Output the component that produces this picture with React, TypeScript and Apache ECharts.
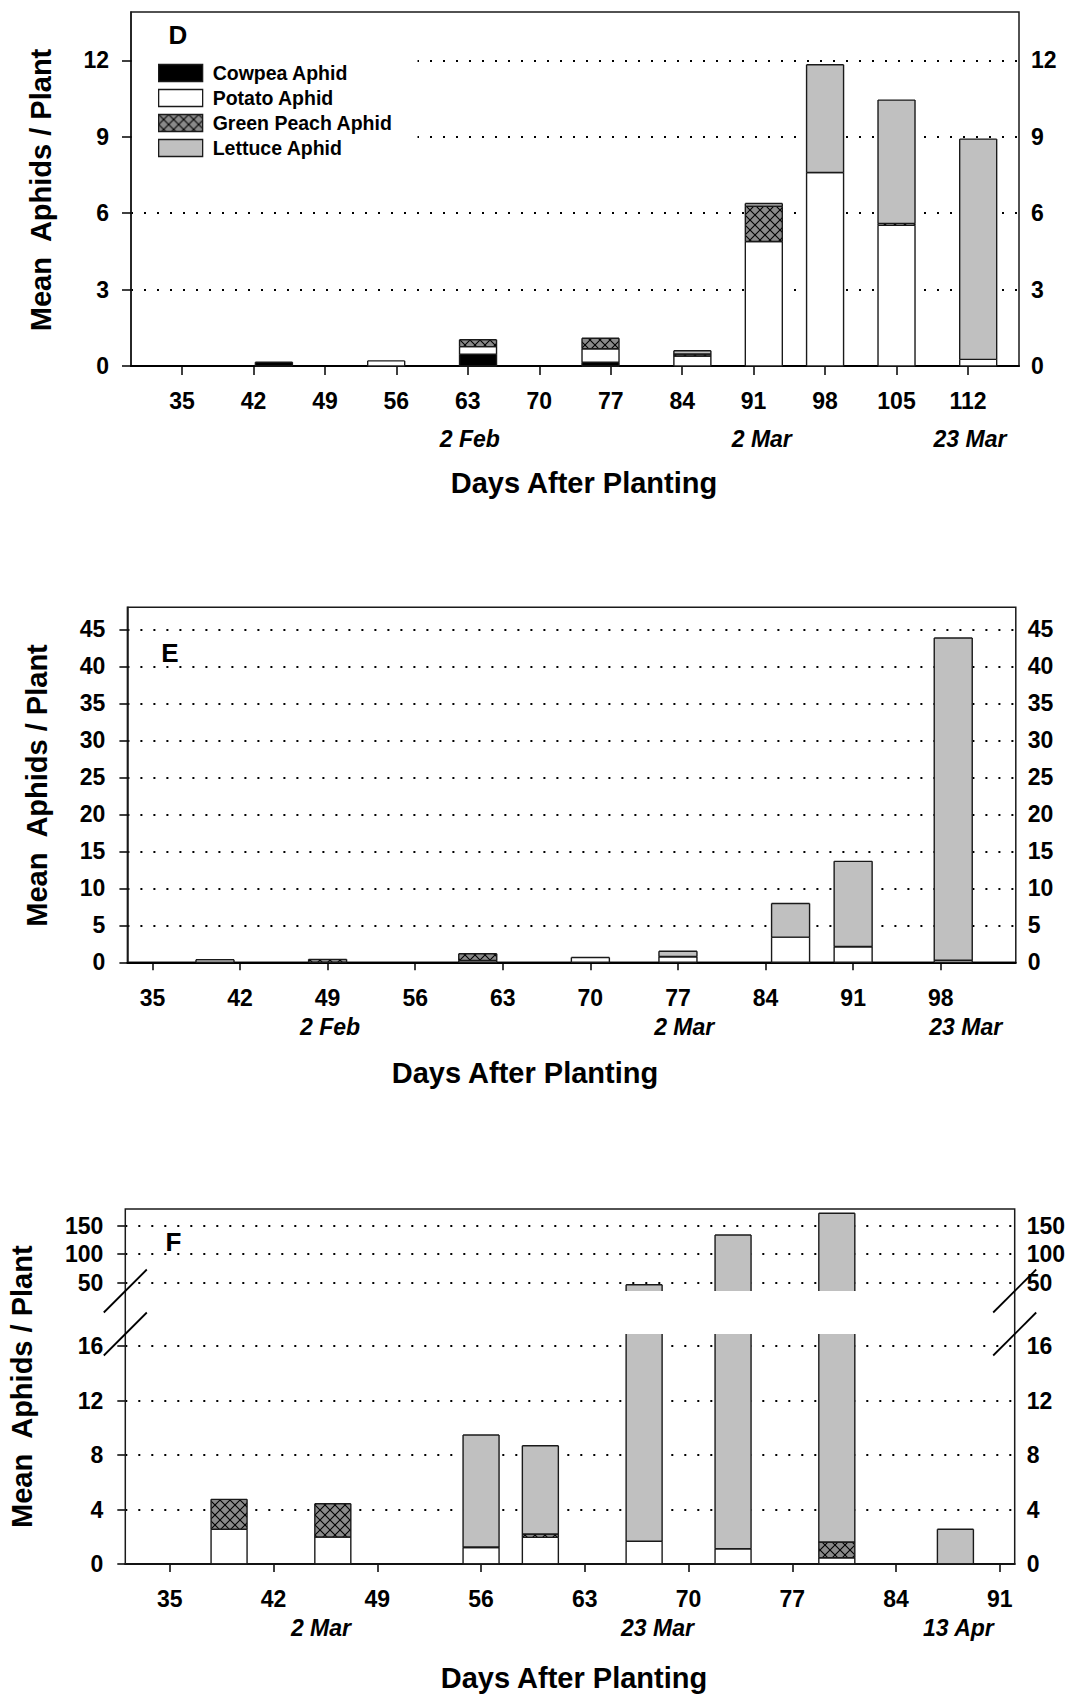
import React, { useEffect, useRef } from 'react';
import * as echarts from 'echarts';

const FONT = "'Liberation Sans', Arial, Helvetica, sans-serif";
const SPECIES = ['Cowpea Aphid', 'Potato Aphid', 'Green Peach Aphid', 'Lettuce Aphid'];

// ---------- Panel D ----------
const dDays = [44, 55, 64, 76, 85, 92, 98, 105, 113];
const dCowpea = [0.15, 0, 0.46, 0.15, 0, 0, 0, 0, 0];
const dPotato = [0, 0.2, 0.3, 0.53, 0.39, 4.89, 7.6, 5.52, 0.26];
const dGreenPeach = [0, 0, 0.27, 0.41, 0.08, 1.38, 0, 0.08, 0];
const dLettuce = [0, 0, 0, 0, 0.13, 0.11, 4.23, 4.84, 8.65];
const dXTicks = [35, 42, 49, 56, 63, 70, 77, 84, 91, 98, 105, 112];
const dYTicks = [0, 3, 6, 9, 12];
const dDateDays = [63.2, 91.8, 112.2];
const dDateLabels = ['2 Feb', '2 Mar', '23 Mar'];

// ---------- Panel E ----------
const eDays = [40, 49, 61, 70, 77, 86, 91, 99];
const eCowpea = [0, 0, 0, 0, 0, 0, 0, 0];
const ePotato = [0.35, 0, 0.25, 0.65, 0.75, 3.4, 2.1, 0.27];
const eGreenPeach = [0, 0.4, 0.9, 0, 0.05, 0, 0.05, 0];
const eLettuce = [0, 0, 0, 0, 0.7, 4.55, 11.5, 43.57];
const eXTicks = [35, 42, 49, 56, 63, 70, 77, 84, 91, 98];
const eYTicks = [0, 5, 10, 15, 20, 25, 30, 35, 40, 45];
const eDateDays = [49.2, 77.5, 100];
const eDateLabels = ['2 Feb', '2 Mar', '23 Mar'];

// ---------- Panel F ----------
const fDays = [39, 46, 56, 60, 67, 73, 80, 88];
const fCowpea = [0, 0, 0, 0, 0, 0, 0, 0];
const fPotato = [2.55, 1.98, 1.2, 1.96, 1.67, 1.12, 0.46, 0];
const fGreenPeach = [2.2, 2.45, 0.05, 0.24, 0, 0, 1.16, 0];
const fLettuce = [0, 0, 8.23, 6.49, 44.4, 132.9, 170.8, 2.55];
const fXTicks = [35, 42, 49, 56, 63, 70, 77, 84, 91];
const fLowerYTicks = [0, 4, 8, 12, 16];
const fUpperYTicks = [50, 100, 150];
const fDateDays = [45.2, 67.9, 88.2];
const fDateLabels = ['2 Mar', '23 Mar', '13 Apr'];

const EDGE = '#1a1a1a';

function makeHatch(): any {
  const c = document.createElement('canvas');
  c.width = 10;
  c.height = 10;
  const g = c.getContext('2d')!;
  g.fillStyle = '#8a8a8a';
  g.fillRect(0, 0, 10, 10);
  g.strokeStyle = '#000';
  g.lineWidth = 1.1;
  g.beginPath();
  g.moveTo(-1, -1);
  g.lineTo(11, 11);
  g.moveTo(11, -1);
  g.lineTo(-1, 11);
  g.stroke();
  return { image: c, repeat: 'repeat', imageWidth: 10, imageHeight: 10 };
}

function stackSegments(days: number[], layers: number[][]) {
  const base = days.map(() => 0);
  return layers.map((vals) =>
    days.map((d, i) => {
      const lo = base[i];
      const hi = lo + vals[i];
      base[i] = hi;
      return [d, lo, hi];
    })
  );
}

function makeRender(bw: number, fill: any) {
  return function (params: any, api: any) {
    const day = api.value(0);
    const lo = api.value(1);
    const hi = api.value(2);
    if (!(hi > lo)) return null;
    const cs = params.coordSys;
    const a = api.coord([day, lo]);
    const b = api.coord([day, hi]);
    let top = b[1];
    let bot = a[1];
    const gTop = cs.y;
    const gBot = cs.y + cs.height;
    const cutTop = top < gTop - 0.01;
    const cutBot = bot > gBot + 0.01;
    top = Math.max(top, gTop);
    bot = Math.min(bot, gBot);
    if (bot - top <= 0) return null;
    const x0 = a[0] - bw / 2;
    const x1 = a[0] + bw / 2;
    const ls = { stroke: EDGE, lineWidth: 1.4 };
    const ch: any[] = [
      { type: 'rect', shape: { x: x0, y: top, width: bw, height: bot - top }, style: { fill } },
      { type: 'line', shape: { x1: x0, y1: top, x2: x0, y2: bot }, style: ls },
      { type: 'line', shape: { x1: x1, y1: top, x2: x1, y2: bot }, style: ls },
    ];
    if (!cutTop) ch.push({ type: 'line', shape: { x1: x0, y1: top, x2: x1, y2: top }, style: ls });
    if (!cutBot) ch.push({ type: 'line', shape: { x1: x0, y1: bot, x2: x1, y2: bot }, style: ls });
    return { type: 'group', children: ch };
  };
}

function panelSeries(days: number[], layers: number[][], xi: number, yi: number, bw: number, fills: any[]) {
  const segs = stackSegments(days, layers);
  return segs.map((data, k) => ({
    type: 'custom',
    name: SPECIES[k],
    xAxisIndex: xi,
    yAxisIndex: yi,
    data,
    encode: { x: 0, y: [1, 2] },
    renderItem: makeRender(bw, fills[k]),
    itemStyle: { color: typeof fills[k] === 'string' ? fills[k] : '#8a8a8a' },
    silent: true,
    z: 3,
  }));
}

const labelBase = { color: '#000', fontSize: 23, fontWeight: 'bold', fontFamily: FONT };
const dotted = { show: true, lineStyle: { type: [2, 11], color: '#000', width: 2 } };

function xMain(grid: number, min: number, max: number, ticks: number[], margin: number, tickLen: number) {
  return {
    type: 'value', gridIndex: grid, min, max, position: 'bottom',
    axisLine: { show: true, onZero: false, lineStyle: { color: '#000', width: 2 } },
    axisTick: { show: true, length: tickLen, customValues: ticks, lineStyle: { color: '#000', width: 1.5 } },
    axisLabel: { ...labelBase, show: true, customValues: ticks, margin },
    splitLine: { show: false },
  };
}

function xDates(grid: number, min: number, max: number, days: number[], labels: string[], margin: number) {
  return {
    type: 'value', gridIndex: grid, min, max, position: 'bottom',
    axisLine: { show: false }, axisTick: { show: false }, splitLine: { show: false },
    axisLabel: {
      ...labelBase, fontStyle: 'italic', show: true, customValues: days, margin,
      formatter: (v: number) => {
        const i = days.findIndex((d) => Math.abs(d - v) < 1e-6);
        return i >= 0 ? labels[i] : '';
      },
    },
  };
}

function xHidden(grid: number, min: number, max: number) {
  return { type: 'value', gridIndex: grid, min, max, show: false };
}

function yLeft(grid: number, min: number, max: number, ticks: number[], tickLen: number, showLine: boolean) {
  return {
    type: 'value', gridIndex: grid, min, max, position: 'left',
    axisLine: { show: showLine, onZero: false, lineStyle: { color: EDGE, width: 1.5 } },
    axisTick: { show: true, length: tickLen, customValues: ticks, lineStyle: { color: '#000', width: 1.5 } },
    axisLabel: { ...labelBase, show: true, margin: 22, customValues: ticks },
    splitLine: dotted,
  };
}

function yRight(grid: number, min: number, max: number, ticks: number[]) {
  return {
    type: 'value', gridIndex: grid, min, max, position: 'right',
    axisLine: { show: false },
    axisTick: { show: false, customValues: ticks },
    axisLabel: { ...labelBase, show: true, margin: 12, customValues: ticks },
    splitLine: { show: false },
  };
}

function yHidden(grid: number) {
  return { type: 'value', gridIndex: grid, min: 0, max: 1, show: false };
}

function textEl(text: string, x: number, y: number, size: number, rotate = false) {
  return {
    type: 'text', x, y, rotation: rotate ? Math.PI / 2 : 0, silent: true, z: 20,
    style: {
      text, fill: '#000', fontSize: size, fontWeight: 'bold', fontFamily: FONT,
      align: 'center', verticalAlign: 'middle', textAlign: 'center', textVerticalAlign: 'middle',
    },
  };
}

function buildOption() {
  const hatch = makeHatch();
  const fills = ['#000000', '#ffffff', hatch, '#c0c0c0'];

  const gD = { left: 131, top: 12, width: 888, height: 354 };
  const gE = { left: 127.4, top: 607.3, width: 888.4, height: 355 };
  const gFl = { left: 125.3, top: 1334, width: 889.4, height: 230 };
  const gFu = { left: 125.3, top: 1209, width: 889.4, height: 82 };
  const border = { show: true, borderColor: EDGE, borderWidth: 1.5, backgroundColor: 'transparent' };
  const nob = { show: false };
  const ob = { outerBoundsMode: 'none', containLabel: false };

  const grid = [
    { ...gD, ...border, ...ob },
    { ...gD, ...nob, ...ob },
    { ...gE, ...border, ...ob },
    { ...gE, ...nob, ...ob },
    { ...gFl, ...nob, ...ob },
    { ...gFu, ...nob, ...ob },
    { ...gFl, ...nob, ...ob },
  ];

  const xAxis = [
    xMain(0, 30, 117, dXTicks, 23, 9),
    xDates(1, 30, 117, dDateDays, dDateLabels, 61),
    xMain(2, 33, 104, eXTicks, 24, 8),
    xDates(3, 33, 104, eDateDays, eDateLabels, 53),
    xMain(4, 32, 92, fXTicks, 23.5, 8),
    xHidden(5, 32, 92),
    xDates(6, 32, 92, fDateDays, fDateLabels, 52),
  ];

  const yAxis = [
    yLeft(0, 0, 13.9, dYTicks, 9, true), // 0
    yRight(0, 0, 13.9, dYTicks), // 1
    yHidden(1), // 2
    yLeft(2, 0, 48, eYTicks, 8, true), // 3
    yRight(2, 0, 48, eYTicks), // 4
    yHidden(3), // 5
    yLeft(4, 0, 16.9, fLowerYTicks, 8, false), // 6
    yRight(4, 0, 16.9, fLowerYTicks), // 7
    yLeft(5, 35, 180, fUpperYTicks, 8, false), // 8
    yRight(5, 35, 180, fUpperYTicks), // 9
    yHidden(6), // 10
  ];

  const series = [
    ...panelSeries(dDays, [dCowpea, dPotato, dGreenPeach, dLettuce], 0, 0, 37, fills),
    ...panelSeries(eDays, [eCowpea, ePotato, eGreenPeach, eLettuce], 2, 3, 38, fills),
    ...panelSeries(fDays, [fCowpea, fPotato, fGreenPeach, fLettuce], 4, 6, 36, fills),
    ...panelSeries(fDays, [fCowpea, fPotato, fGreenPeach, fLettuce], 5, 8, 36, fills),
  ];

  const fL = gFl.left;
  const fR = gFl.left + gFl.width;
  const fT = gFu.top;
  const fB = gFl.top + gFl.height;
  const slash = (cx: number, cy: number) => ({
    type: 'line', silent: true, z: 21,
    shape: { x1: cx - 21.5, y1: cy + 21.5, x2: cx + 21.5, y2: cy - 21.5 },
    style: { stroke: '#000', lineWidth: 1.8 },
  });
  const breakTop = gFu.top + gFu.height;
  const breakBot = gFl.top;

  const graphic = [
    textEl('Mean  Aphids / Plant', 41, 190, 29, true),
    textEl('Mean  Aphids / Plant', 37, 785.5, 29, true),
    textEl('Mean  Aphids / Plant', 22.4, 1386.7, 29, true),
    textEl('Days After Planting', 584, 483, 29),
    textEl('Days After Planting', 525, 1072.7, 29),
    textEl('Days After Planting', 574, 1678, 29),
    textEl('D', 178, 35, 26),
    textEl('E', 170, 652.5, 26),
    textEl('F', 173.5, 1241.7, 26),
    {
      type: 'rect', silent: true, z: 19,
      shape: { x: fL, y: fT, width: fR - fL, height: fB - fT },
      style: { fill: 'none', stroke: EDGE, lineWidth: 1.5 },
    },
    slash(fL, breakTop),
    slash(fL, breakBot),
    slash(fR, breakTop),
    slash(fR, breakBot),
  ];

  const legend = {
    show: true,
    left: 132,
    top: 53,
    orient: 'vertical',
    itemWidth: 44,
    itemHeight: 17,
    itemGap: 5,
    padding: [10, 25, 10, 26],
    backgroundColor: '#ffffff',
    icon: 'rect',
    selectedMode: false,
    z: 10,
    textStyle: { color: '#000', fontSize: 19.5, fontWeight: 'bold', fontFamily: FONT, lineHeight: 17, padding: [0, 0, 0, 5] },
    data: SPECIES.map((name, k) => ({
      name,
      icon: 'rect',
      itemStyle: { color: fills[k], borderColor: EDGE, borderWidth: 1.3 },
    })),
  };

  return {
    animation: false,
    backgroundColor: '#ffffff',
    textStyle: { fontFamily: FONT },
    grid,
    xAxis,
    yAxis,
    series,
    legend,
    graphic,
  };
}

export default function App() {
  const ref = useRef<HTMLDivElement>(null);
  useEffect(() => {
    document.body.style.margin = '0';
    const chart = echarts.init(ref.current!, null, { renderer: 'svg', width: 1074, height: 1695 });
    chart.setOption(buildOption() as any);
    return () => {
      chart.dispose();
    };
  }, []);
  return <div ref={ref} style={{ width: 1074, height: 1695 }} />;
}
